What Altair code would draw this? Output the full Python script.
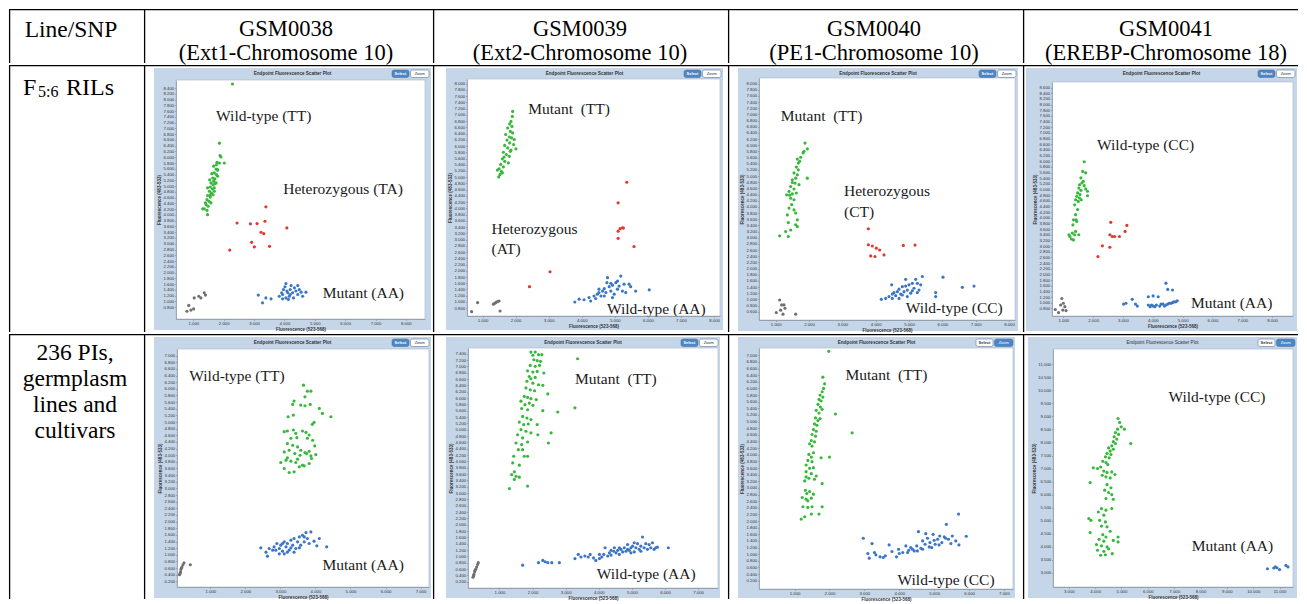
import altair as alt
import pandas as pd

SERIF = "Liberation Serif"
SANS = "Liberation Sans"

# ---------------- table text ----------------
HEADER_TOP = ["Line/SNP", "GSM0038", "GSM0039", "GSM0040", "GSM0041"]
HEADER_SUB = ["(Ext1-Chromosome 10)", "(Ext2-Chromosome 10)",
              "(PE1-Chromosome 10)", "(EREBP-Chromosome 18)"]
ROW1_LABEL = ["F", "5:6", "RILs"]
ROW2_LABEL = ["236 PIs,", "germplasm", "lines and", "cultivars"]
PANEL_TITLE = "Endpoint Fluorescence Scatter Plot"
X_TITLE = "Fluorescence (523-568)"
Y_TITLE = "Fluorescence (483-533)"

GROUPS = ["green", "red", "blue", "grey"]
GROUP_COLORS = ["#36b83a", "#e3372c", "#3b76c6", "#707070"]

# ---------------- panel data: row 1 (F5:6 RILs) ----------------
P11_GREEN = [(2.29,8.54),(1.86,6.49),(1.88,6.06),(1.91,6.01),(1.78,5.82),(1.86,5.80),(2.02,5.80),(1.75,5.59),
             (1.80,5.55),(1.69,5.46),(1.76,5.40),(1.64,5.28),(1.71,5.25),(1.80,5.34),(1.67,5.17),(1.58,5.11),
             (1.65,5.05),(1.72,5.09),(1.56,4.97),(1.63,4.90),(1.69,4.94),(1.53,4.82),(1.60,4.76),(1.47,4.67),
             (1.56,4.62),(1.65,4.70),(1.45,4.53),(1.52,4.47),(1.42,4.36),(1.49,4.30),(1.36,4.21),(1.45,4.16),
             (1.31,4.21),(1.47,4.01),(1.58,4.42),(1.69,4.82),(1.75,5.11),(1.80,5.57),(1.54,5.22),(1.61,5.43),
             (1.47,4.94),(1.67,5.69),(1.76,5.74),(1.40,4.42),(1.56,4.70)]
P11_RED = [(2.44,3.72),(2.88,3.69),(3.10,3.70),(3.36,3.78),(3.39,4.28),(4.08,3.55),(3.23,3.40),(3.32,3.35),
           (2.92,3.05),(3.01,2.89),(3.51,2.91),(2.20,2.78)]
P11_BLUE = [(3.14,1.22),(3.28,0.95),(3.39,1.12),(3.56,1.09),(3.83,1.18),(3.91,1.30),(3.97,1.41),(4.02,1.51),
            (4.05,1.62),(4.11,1.30),(4.16,1.18),(4.19,1.41),(4.22,1.55),(4.27,1.30),(4.33,1.47),(4.38,1.36),
            (4.44,1.24),(4.49,1.41),(4.55,1.32),(4.05,1.12),(4.13,1.07),(3.94,1.09),(4.30,1.12),(4.44,1.55),
            (4.71,1.32),(4.60,1.18),(3.94,1.24),(4.19,1.24),(4.08,1.36)]
P11_GREY = [(0.79,0.66),(0.85,0.86),(1.01,0.74),(1.03,1.12),(1.18,1.18),(1.25,1.12),(1.36,1.30),(1.40,1.22),(0.92,0.70)]
P11_NOTES = [("Wild-type (TT)", 1.75, 7.42), ("Heterozygous (TA)", 3.96, 4.90), ("Mutant (AA)", 5.26, 1.30)]

P12_GREEN = [(1.91,7.11),(1.90,6.95),(1.86,6.79),(1.82,6.71),(1.89,6.63),(1.76,6.58),(1.84,6.47),(1.91,6.42),
             (1.70,6.37),(1.81,6.29),(1.88,6.26),(1.74,6.19),(1.82,6.10),(1.94,6.05),(2.01,5.91),(1.67,6.02),
             (1.76,5.94),(1.86,5.87),(1.63,5.80),(1.72,5.73),(1.81,5.67),(1.60,5.59),(1.67,5.51),(1.78,5.46),
             (1.55,5.41),(1.63,5.33),(1.50,5.27),(1.57,5.19),(1.45,5.23),(1.53,5.09),(1.49,5.01),(1.60,5.14),
             (1.96,6.21),(1.65,5.65),(1.84,5.83)]
P12_RED = [(5.36,4.84),(5.10,4.18),(5.10,3.27),(5.16,3.35),(5.23,3.38),(5.26,3.37),(5.10,3.04),(5.58,2.78),
           (3.04,1.97),(2.42,1.49)]
P12_BLUE = [(3.79,1.00),(3.92,1.09),(4.07,1.07),(4.22,1.14),(4.27,1.03),(4.37,1.19),(4.47,1.25),(4.52,1.30),
            (4.58,1.19),(4.63,1.35),(4.68,1.43),(4.73,1.30),(4.78,1.78),(4.83,1.49),(4.88,1.35),(4.93,1.54),
            (4.98,1.25),(5.03,1.62),(5.08,1.41),(5.13,1.51),(5.18,1.83),(5.23,1.35),(5.28,1.57),(5.33,1.30),
            (5.43,1.57),(5.48,1.49),(5.63,1.35),(6.04,1.39),(4.93,1.14),(4.68,1.19),(4.42,1.11),(4.52,1.41),
            (4.88,1.60),(5.08,1.67),(4.76,1.62)]
P12_GREY = [(0.67,0.69),(0.85,0.98),(1.33,0.93),(1.40,0.98),(1.45,1.01),(1.50,1.03),(1.37,0.96),(1.53,0.71)]
P12_NOTES = [("Mutant\u00a0 (TT)", 2.38, 7.19), ("Heterozygous", 1.27, 3.35), ("(AT)", 1.27, 2.69),
             ("Wild-type (AA)", 4.76, 0.79)]

P13_GREEN = [(1.88,6.07),(1.95,5.88),(1.82,5.75),(1.75,5.61),(1.65,5.55),(1.68,5.42),(1.62,5.29),(1.68,5.20),
             (1.55,5.10),(1.65,5.04),(1.60,4.93),(1.95,4.93),(1.50,4.88),(1.58,4.77),(1.70,4.72),(1.45,4.66),
             (1.55,4.58),(1.40,4.50),(1.50,4.42),(1.62,4.45),(1.33,4.39),(1.45,4.28),(1.55,4.23),(1.48,4.07),
             (1.40,3.96),(1.55,3.90),(1.60,3.80),(1.35,3.74),(1.65,3.58),(1.38,3.49),(1.60,3.42),(1.45,3.25),
             (1.30,3.20),(1.38,3.04),(1.12,3.06),(1.65,3.36),(1.85,5.80),(1.72,5.48),(1.50,4.79),(1.42,4.38)]
P13_RED = [(3.78,3.29),(3.78,2.77),(3.90,2.73),(4.02,2.66),(4.12,2.60),(3.85,2.41),(3.98,2.39),(4.25,2.44),
           (4.83,2.75),(5.18,2.76)]
P13_BLUE = [(4.17,1.00),(4.30,1.03),(4.40,1.09),(4.48,1.47),(4.50,1.17),(4.55,1.22),(4.60,1.12),(4.65,1.25),
            (4.70,1.33),(4.75,1.17),(4.80,1.41),(4.85,1.25),(4.90,1.65),(4.95,1.30),(5.00,1.47),(5.05,1.20),
            (5.10,1.52),(5.15,1.36),(5.20,1.65),(5.25,1.22),(5.30,1.30),(5.35,1.47),(5.40,1.74),(4.95,1.09),
            (4.70,1.03),(4.80,1.14),(5.10,1.28),(5.80,1.22),(5.80,1.09),(6.02,1.72),(6.60,1.39),(6.95,1.43),
            (4.50,1.03),(4.90,1.43),(5.25,1.52)]
P13_GREY = [(1.12,0.98),(1.02,0.57),(1.15,0.65),(1.25,0.82),(1.28,0.71),(1.22,0.52),(1.60,0.52),(1.18,0.82)]
P13_NOTES = [("Mutant\u00a0 (TT)", 1.15, 6.94), ("Heterozygous", 3.05, 4.52), ("(CT)", 3.05, 3.83),
             ("Wild-type (CC)", 4.90, 0.71)]

P14_GREEN = [(1.70,5.98),(1.65,5.64),(1.75,5.59),(1.59,5.41),(1.67,5.29),(1.54,5.17),(1.62,5.23),(1.70,5.14),
             (1.52,5.05),(1.59,4.97),(1.75,5.02),(1.48,4.88),(1.56,4.82),(1.81,4.94),(1.45,4.76),(1.54,4.70),
             (1.81,4.78),(1.41,4.64),(1.50,4.58),(1.60,4.64),(1.38,4.46),(1.48,4.29),(1.41,4.11),(1.34,3.93),
             (1.45,3.87),(1.32,3.75),(1.41,3.52),(1.30,3.46),(1.38,3.40),(1.52,3.40),(1.22,3.34),(1.27,3.25),
             (1.34,3.22),(1.19,3.40),(1.43,3.93)]
P14_RED = [(2.59,3.84),(3.13,3.73),(2.56,3.40),(2.64,3.34),(2.72,3.34),(2.88,3.34),(3.07,3.52),(2.31,3.01),
           (2.56,2.96),(2.16,2.63)]
P14_BLUE = [(3.02,0.95),(3.10,0.98),(3.31,1.12),(3.42,0.95),(3.48,0.88),(3.85,1.21),(4.01,1.24),(4.18,1.21),
            (4.44,1.69),(4.50,1.47),(4.66,1.45),(3.85,0.92),(3.91,0.86),(4.01,0.88),(4.12,0.92),(4.23,0.88),
            (4.34,0.95),(4.44,0.92),(4.55,0.98),(4.66,1.00),(4.77,1.03),(4.82,1.07),(3.96,0.92),(4.07,0.86),
            (4.28,0.95),(4.39,0.88),(4.50,0.95),(4.61,0.98),(4.71,1.03)]
P14_GREY = [(0.73,0.76),(0.84,0.65),(0.95,1.15),(1.00,0.98),(1.05,0.86),(0.98,0.74),(1.09,0.72),(0.91,0.92)]
P14_NOTES = [("Wild-type (CC)", 2.13, 6.59), ("Mutant (AA)", 5.28, 1.00)]

# ---------------- panel data: row 2 (236 PIs, germplasm lines and cultivars) ----------------
P21_GREEN = [(3.66,6.11),(3.77,5.93),(3.87,5.93),(3.70,5.76),(3.39,5.63),(3.35,5.53),(3.58,5.51),(3.70,5.49),
             (3.85,5.53),(4.11,5.41),(4.20,5.26),(4.44,5.16),(3.37,5.21),(3.22,5.16),(3.96,4.99),(3.91,4.93),
             (3.11,4.71),(3.20,4.73),(3.37,4.76),(3.44,4.66),(3.63,4.73),(3.73,4.69),(3.82,4.61),(3.30,4.51),
             (3.47,4.53),(3.77,4.51),(3.92,4.45),(3.20,4.35),(3.35,4.30),(3.49,4.25),(3.58,4.15),(3.70,4.08),
             (3.82,4.12),(3.98,4.28),(3.11,4.10),(3.25,4.15),(3.41,4.05),(3.56,4.00),(3.75,4.05),(3.87,3.98),
             (4.01,4.02),(3.01,3.78),(3.16,3.85),(3.30,3.82),(3.44,3.78),(3.63,3.70),(3.82,3.75),(3.11,3.60),
             (3.25,3.48),(3.39,3.50),(3.54,3.65),(3.68,3.68),(3.20,3.92),(3.89,3.90),(3.49,3.88)]
P21_BLUE = [(2.44,1.21),(2.59,1.08),(2.63,0.96),(2.68,1.19),(2.78,1.14),(2.82,1.24),(2.90,1.34),(2.97,1.19),
            (3.01,1.29),(3.06,1.11),(3.11,1.39),(3.16,1.24),(3.20,1.34),(3.25,1.14),(3.30,1.44),(3.35,1.29),
            (3.39,1.49),(3.44,1.19),(3.49,1.39),(3.54,1.54),(3.58,1.29),(3.63,1.59),(3.68,1.39),(3.73,1.67),
            (3.77,1.49),(3.82,1.34),(3.87,1.69),(3.96,1.41),(4.04,1.27),(4.11,1.49),(4.32,1.24),(3.11,1.03),
            (3.20,1.08),(2.97,1.03),(3.39,1.08),(3.54,1.21),(3.30,1.21),(3.06,1.34),(3.68,1.54),(2.87,1.14)]
P21_GREY = [(0.12,0.40),(0.15,0.48),(0.16,0.56),(0.19,0.63),(0.22,0.70),(0.25,0.76),(0.43,0.70),(0.14,0.44),(0.18,0.60)]
P21_NOTES = [("Wild-type (TT)", 0.40, 6.40), ("Mutant (AA)", 4.20, 0.68)]

P22_GREEN = [(1.95,7.45),(2.08,7.45),(2.01,7.35),(2.18,7.37),(2.28,7.37),(3.36,7.24),(2.04,7.21),(2.14,7.18),
             (2.24,7.16),(1.93,7.03),(2.08,7.00),(2.21,7.03),(1.85,6.86),(2.01,6.82),(2.14,6.84),(2.34,6.79),
             (1.90,6.68),(1.95,6.61),(2.08,6.65),(1.83,6.53),(2.01,6.47),(2.18,6.42),(2.31,6.40),(1.80,6.32),
             (1.93,6.26),(2.06,6.23),(2.46,6.13),(1.75,6.05),(1.85,6.02),(1.95,5.98),(2.11,5.95),(1.65,5.90),
             (1.77,5.79),(1.90,5.84),(2.01,5.77),(1.67,5.67),(1.85,5.63),(2.31,5.60),(2.76,5.56),(3.28,5.69),
             (1.70,5.42),(1.83,5.37),(1.95,5.32),(1.60,5.24),(1.73,5.16),(1.87,5.18),(2.14,5.16),(1.65,5.00),
             (1.80,4.95),(1.95,4.90),(2.56,4.90),(2.16,4.84),(1.55,4.84),(1.70,4.74),(1.50,4.58),(1.67,4.53),
             (1.85,4.61),(2.48,4.58),(1.57,4.37),(1.70,4.37),(1.43,4.16),(1.75,4.16),(1.85,4.16),(1.40,3.95),
             (1.60,3.88),(1.37,3.58),(1.50,3.53),(1.60,3.50),(1.45,3.43),(1.30,3.14),(1.85,3.22),(1.45,3.67)]
P22_BLUE = [(1.70,0.72),(2.18,0.80),(2.31,0.87),(2.38,0.83),(2.46,0.80),(2.58,0.80),(2.81,0.80),(3.28,0.93),
            (3.38,1.06),(3.46,0.98),(3.58,1.01),(3.68,0.98),(3.74,1.06),(3.84,0.95),(3.91,0.87),(4.02,0.93),
            (4.09,0.98),(4.15,1.06),(4.19,1.27),(4.27,1.01),(4.32,1.11),(4.37,1.04),(4.45,1.16),(4.52,1.11),
            (4.57,1.19),(4.62,1.06),(4.67,1.22),(4.72,1.14),(4.77,1.27),(4.82,1.16),(4.87,1.37),(4.92,1.19),
            (4.97,1.27),(5.02,1.32),(5.07,1.14),(5.12,1.27),(5.17,1.40),(5.22,1.22),(5.27,1.32),(5.32,1.61),
            (5.37,1.27),(5.42,1.40),(5.47,1.22),(5.52,1.37),(5.57,1.27),(5.62,1.43),(5.67,1.22),(5.72,1.27),
            (5.77,1.29),(6.10,1.27),(4.37,1.19),(4.62,1.27),(4.87,1.22),(5.07,1.43),(4.97,1.11),(5.27,1.16),
            (4.02,1.06),(4.47,1.27)]
P22_GREY = [(0.20,0.34),(0.23,0.43),(0.25,0.51),(0.28,0.59),(0.31,0.66),(0.34,0.74),(0.36,0.80),(0.22,0.39),(0.26,0.55)]
P22_NOTES = [("Mutant\u00a0 (TT)", 3.28, 6.60), ("Wild-type (AA)", 3.94, 0.43)]

P23_GREEN = [(1.98,7.12),(1.81,6.34),(1.86,6.14),(1.83,6.00),(1.79,5.90),(1.73,5.80),(1.81,5.74),(1.70,5.67),
             (1.76,5.62),(1.67,5.52),(1.74,5.44),(1.62,5.34),(1.70,5.26),(1.79,5.37),(2.17,5.23),(1.60,5.11),
             (1.67,5.03),(1.73,5.09),(1.57,4.93),(1.64,4.89),(1.54,4.76),(1.62,4.71),(1.50,4.61),(1.60,4.56),
             (2.65,4.66),(1.48,4.43),(1.57,4.39),(1.43,4.33),(1.50,4.26),(1.54,4.06),(1.41,4.01),(1.48,3.93),
             (1.76,3.91),(2.00,3.93),(1.38,3.83),(1.50,3.79),(1.33,3.69),(1.43,3.59),(1.54,3.61),(1.33,3.49),
             (1.48,3.43),(1.62,3.36),(1.33,3.33),(1.41,3.29),(1.57,3.26),(1.29,3.21),(1.79,3.13),(1.31,2.93),
             (1.43,2.89),(1.35,2.83),(1.54,2.81),(1.22,2.71),(1.33,2.66),(1.48,2.69),(1.38,2.61),(1.24,2.43),
             (1.38,2.41),(1.50,2.43),(1.79,2.43),(1.19,2.06),(1.29,2.13),(1.48,2.21),(1.70,2.21)]
P23_BLUE = [(2.97,1.48),(3.10,1.02),(3.14,0.88),(3.22,1.32),(3.29,1.05),(3.33,0.98),(3.45,0.92),(3.54,0.90),
            (3.60,0.95),(3.71,1.28),(3.79,1.08),(3.92,0.92),(3.98,1.15),(4.10,1.05),(4.19,1.25),(4.27,1.12),
            (4.33,1.20),(4.43,1.10),(4.50,1.25),(4.55,1.68),(4.62,1.18),(4.67,1.40),(4.74,1.30),(4.81,1.48),
            (4.88,1.35),(4.93,1.20),(4.97,1.60),(5.03,1.30),(5.10,1.45),(5.16,1.55),(5.22,1.35),(5.29,1.52),
            (5.35,1.90),(5.41,1.45),(5.48,1.32),(5.52,1.55),(5.62,1.40),(5.70,2.21),(5.71,1.28),(5.92,1.54),
            (4.38,1.15),(4.67,1.15),(4.86,1.22),(5.14,1.28),(5.33,1.48),(4.24,1.05),(4.52,1.10),(5.00,1.42),
            (4.76,1.62),(4.00,1.02)]
P23_NOTES = [("Mutant\u00a0 (TT)", 2.46, 6.40), ("Wild-type (CC)", 3.95, 0.22)]

P24_GREEN = [(4.87,8.92),(4.93,8.77),(4.99,8.60),(4.85,8.51),(5.11,8.51),(4.77,8.38),(4.89,8.31),(4.72,8.22),
             (4.82,8.13),(4.69,8.03),(4.77,7.96),(4.63,7.87),(4.51,7.79),(4.69,7.74),(4.57,7.67),(4.45,7.58),
             (4.60,7.54),(4.39,7.45),(4.53,7.41),(4.29,7.28),(4.41,7.23),(4.48,7.15),(4.21,7.06),(3.93,7.03),
             (4.09,7.00),(5.35,7.96),(4.33,6.90),(4.45,6.85),(4.63,6.87),(4.27,6.74),(4.41,6.68),(4.57,6.64),
             (4.75,6.77),(3.81,6.46),(4.45,6.38),(4.60,6.26),(4.36,6.17),(4.51,6.08),(4.63,6.00),(4.41,5.85),
             (4.69,5.82),(4.24,5.46),(4.41,5.40),(4.12,5.33),(4.33,5.21),(4.63,5.46),(3.76,5.08),(3.84,5.01),
             (4.17,5.01),(4.39,4.95),(4.24,4.79),(4.45,4.76),(3.81,4.54),(4.57,4.59),(4.29,4.46),(4.41,4.37),
             (4.87,4.37),(4.15,4.28),(4.33,4.21),(4.69,4.24),(4.05,4.08),(4.24,4.03),(4.45,3.99),(4.87,4.18),
             (4.09,3.86),(4.33,3.82),(4.51,3.92),(4.21,3.67),(4.39,3.69),(4.65,3.73)]
P24_BLUE = [(10.54,3.15),(10.78,3.18),(10.84,3.22),(10.90,3.19),(11.00,3.12),(11.24,3.28),(11.32,3.22)]
P24_NOTES = [("Wild-type (CC)", 6.78, 9.76), ("Mutant (AA)", 7.67, 4.03)]


def ticks(start, stop, step):
    n = int(round((stop - start) / step))
    return [round(start + i * step, 3) for i in range(n + 1)]


P11_XT, P11_YT = [1, 2, 3, 4, 5, 6, 7, 8], ticks(0.8, 8.4, 0.2)
P12_XT, P12_YT = [1, 2, 3, 4, 5, 6, 7, 8], ticks(0.8, 8.0, 0.2)
P13_XT, P13_YT = [1, 2, 3, 4, 5, 6, 7, 8], ticks(0.6, 8.0, 0.2)
P14_XT, P14_YT = [1, 2, 3, 4, 5, 6, 7, 8], ticks(0.8, 8.6, 0.2)
P21_XT, P21_YT = [1, 2, 3, 4, 5, 6, 7], ticks(0.2, 7.0, 0.2)
P22_XT, P22_YT = [1, 2, 3, 4, 5, 6, 7], ticks(0.2, 7.4, 0.2)
P23_XT, P23_YT = [1, 2, 3, 4, 5, 6, 7], ticks(0.2, 7.0, 0.2)
P24_XT, P24_YT = [3, 4, 5, 6, 7, 8, 9, 10, 11], ticks(3.0, 11.0, 0.5)

# ---------------- layout ----------------
COL_W = [135, 289, 295, 295, 275]
ROW_H = [54, 267, 265]
FRAME_BLUE = "#c6d6e9"
ONE = alt.Data(values=[{"k": 0}])


def box(x0, x1, y0, y1, **kw):
    return alt.Chart(ONE).mark_rect(**kw).encode(
        x=alt.value(x0), x2=alt.value(x1), y=alt.value(y0), y2=alt.value(y1))


def label(text, x, y, **kw):
    return alt.Chart(ONE).mark_text(text=text, **kw).encode(x=alt.value(x), y=alt.value(y))


def borders(W, H):
    return [
        alt.Chart(ONE).mark_rule(color="black", strokeWidth=1.3).encode(
            x=alt.value(0.6), y=alt.value(0), y2=alt.value(H)),
        alt.Chart(ONE).mark_rule(color="black", strokeWidth=1.3).encode(
            y=alt.value(0.6), x=alt.value(0), x2=alt.value(W)),
    ]


def scatter_cell(W, H, frame, plot, xdom, ydom, xticks, yticks, groups, notes,
                 zoom_active=False, bold_title=True):
    fx0, fy0, fx1, fy1 = frame
    px0, py0, px1, py1 = plot
    xs = alt.Scale(domain=list(xdom), range=[px0, px1], nice=False, zero=False)
    ys = alt.Scale(domain=list(ydom), range=[py1, py0], nice=False, zero=False)
    common = dict(format=".3f", labelFontSize=4.3, labelFont=SANS, labelColor="#333",
                  tickSize=1.5, tickColor="#888", tickWidth=0.6, domainColor="#8c96a3",
                  domainWidth=0.8, labelPadding=0.8, labelOverlap=False, labelFlush=False,
                  grid=False, titleFontSize=4.5, titleFont=SANS, titleFontWeight="bold",
                  titleColor="#333", titlePadding=1, zindex=1)
    xaxis = alt.Axis(values=xticks, offset=-(H - py1), title=X_TITLE, **common)
    yaxis = alt.Axis(values=yticks, offset=-px0, title=Y_TITLE, **common)

    rows = []
    for g, pts in groups:
        for x, y in pts:
            rows.append({"x": x, "y": y, "g": g})
    df = pd.DataFrame(rows)
    notes_df = pd.DataFrame([{"t": t, "x": x, "y": y} for t, x, y in notes])

    sel_fill, zoom_fill = ("white", "#4b86c5") if zoom_active else ("#4b86c5", "white")
    sel_col, zoom_col = ("#333", "white") if zoom_active else ("white", "#333")
    bx1 = fx1 - 2
    layers = [
        box(fx0, fx1, fy0, fy1, color=FRAME_BLUE),
        box(px0, px1, py0, py1, fill="white", stroke="#a9b6c6", strokeWidth=0.6),
        label(PANEL_TITLE, (fx0 + fx1) / 2, fy0 + 6, font=SANS, fontSize=4.6,
              fontWeight="bold" if bold_title else "normal", color="#333"),
        box(bx1 - 37, bx1 - 20, fy0 + 2, fy0 + 9.5, fill=sel_fill, stroke="#5d7794",
            strokeWidth=0.6, cornerRadius=2),
        box(bx1 - 18.5, bx1, fy0 + 2, fy0 + 9.5, fill=zoom_fill, stroke="#5d7794",
            strokeWidth=0.6, cornerRadius=2),
        label("Select", bx1 - 28.5, fy0 + 6, font=SANS, fontSize=4, fontWeight="bold", color=sel_col),
        label("Zoom", bx1 - 9.25, fy0 + 6, font=SANS, fontSize=4, color=zoom_col),
        alt.Chart(df).mark_circle(size=10, opacity=1).encode(
            x=alt.X("x:Q", scale=xs, axis=xaxis),
            y=alt.Y("y:Q", scale=ys, axis=yaxis),
            color=alt.Color("g:N", scale=alt.Scale(domain=GROUPS, range=GROUP_COLORS), legend=None),
        ),
        alt.Chart(notes_df).mark_text(align="left", baseline="middle", font=SERIF,
                                      fontSize=15.5, color="#1a1a1a").encode(
            x=alt.X("x:Q", scale=xs, axis=xaxis),
            y=alt.Y("y:Q", scale=ys, axis=yaxis),
            text="t:N",
        ),
    ] + borders(W, H)
    return alt.layer(*layers).properties(width=W, height=H)


def text_cell(W, H, items):
    layers = borders(W, H) + [label(t, x, y, font=SERIF, color="black", **kw) for t, x, y, kw in items]
    return alt.layer(*layers).properties(width=W, height=H)


mid = dict(align="center", baseline="middle", fontSize=23.5)
hd = dict(align="center", baseline="middle", fontSize=22.5)

header = alt.hconcat(
    text_cell(COL_W[0], ROW_H[0], [(HEADER_TOP[0], 62, 20.5, mid)]),
    text_cell(COL_W[1], ROW_H[0], [(HEADER_TOP[1], 142, 20, hd), (HEADER_SUB[0], 142, 43.5, hd)]),
    text_cell(COL_W[2], ROW_H[0], [(HEADER_TOP[2], 147, 20, hd), (HEADER_SUB[1], 147, 43.5, hd)]),
    text_cell(COL_W[3], ROW_H[0], [(HEADER_TOP[3], 146, 20, hd), (HEADER_SUB[2], 146, 43.5, hd)]),
    text_cell(COL_W[4], ROW_H[0], [(HEADER_TOP[4], 143, 20, hd), (HEADER_SUB[3], 143, 43.5, hd)]),
    spacing=0, bounds="flush",
)

row1_label = text_cell(COL_W[0], ROW_H[1], [
    (ROW1_LABEL[0], 14, 29.5, dict(align="left", baseline="alphabetic", fontSize=24)),
    (ROW1_LABEL[1], 29, 32, dict(align="left", baseline="alphabetic", fontSize=16)),
    (ROW1_LABEL[2], 57, 29.5, dict(align="left", baseline="alphabetic", fontSize=24)),
])

row1 = alt.hconcat(
    row1_label,
    scatter_cell(COL_W[1], ROW_H[1], (10, 3, 287, 265), (32, 15, 281, 254), (0.43, 8.63), (0.39, 8.68),
                 P11_XT, P11_YT, [("green", P11_GREEN), ("red", P11_RED), ("blue", P11_BLUE), ("grey", P11_GREY)],
                 P11_NOTES),
    scatter_cell(COL_W[2], ROW_H[1], (13, 3, 290, 265), (34, 14, 287, 251), (0.53, 8.18), (0.55, 8.15),
                 P12_XT, P12_YT, [("green", P12_GREEN), ("red", P12_RED), ("blue", P12_BLUE), ("grey", P12_GREY)],
                 P12_NOTES),
    scatter_cell(COL_W[3], ROW_H[1], (10, 3, 290, 266), (31, 13, 287, 255), (0.5, 8.18), (0.33, 8.18),
                 P13_XT, P13_YT, [("green", P13_GREEN), ("red", P13_RED), ("blue", P13_BLUE), ("grey", P13_GREY)],
                 P13_NOTES),
    scatter_cell(COL_W[4], ROW_H[1], (3, 3, 274, 266), (29, 17, 270, 251), (0.62, 8.70), (0.53, 8.80),
                 P14_XT, P14_YT, [("green", P14_GREEN), ("red", P14_RED), ("blue", P14_BLUE), ("grey", P14_GREY)],
                 P14_NOTES),
    spacing=0, bounds="flush",
)

row2_label = text_cell(COL_W[0], ROW_H[2], [
    (ROW2_LABEL[0], 66, 19, mid), (ROW2_LABEL[1], 66, 45, mid),
    (ROW2_LABEL[2], 66, 71, mid), (ROW2_LABEL[3], 66, 97, mid),
])

row2 = alt.hconcat(
    row2_label,
    scatter_cell(COL_W[1], ROW_H[2], (10, 3, 287, 264), (33, 15, 285, 253), (0.05, 7.24), (0.03, 7.2),
                 P21_XT, P21_YT, [("green", P21_GREEN), ("blue", P21_BLUE), ("grey", P21_GREY)], P21_NOTES),
    scatter_cell(COL_W[2], ROW_H[2], (13, 3, 287, 264), (35, 14, 285, 254), (0.05, 7.6), (0.0, 7.58),
                 P22_XT, P22_YT, [("green", P22_GREEN), ("blue", P22_BLUE), ("grey", P22_GREY)], P22_NOTES),
    scatter_cell(COL_W[3], ROW_H[2], (10, 3, 287, 264), (31, 14, 285, 255), (-0.02, 7.26), (-0.05, 7.22),
                 P23_XT, P23_YT, [("green", P23_GREEN), ("blue", P23_BLUE)], P23_NOTES, zoom_active=True),
    scatter_cell(COL_W[4], ROW_H[2], (5, 3, 274, 264), (30, 15, 270, 253), (2.40, 11.51), (2.45, 11.59),
                 P24_XT, P24_YT, [("green", P24_GREEN), ("blue", P24_BLUE)], P24_NOTES,
                 zoom_active=True, bold_title=False),
    spacing=0, bounds="flush",
)

chart = alt.vconcat(header, row1, row2, spacing=0).properties(
    padding=0, background="white"
).configure_view(stroke=None)

chart.save("out.html", embed_options={"renderer": "svg", "actions": False})
